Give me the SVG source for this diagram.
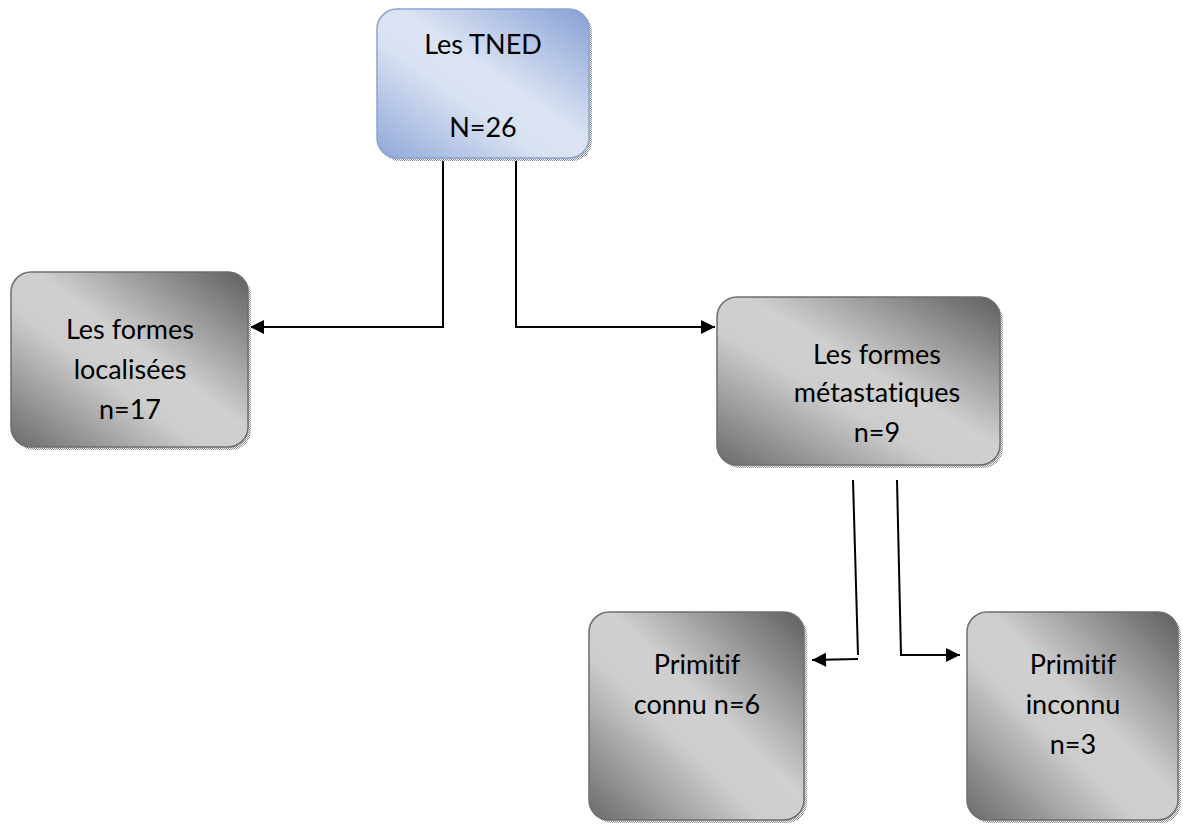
<svg xmlns="http://www.w3.org/2000/svg" width="1183" height="826" viewBox="0 0 1183 826">
<defs>
<linearGradient id="gGrey" x1="1" y1="0" x2="0" y2="1">
<stop offset="0" stop-color="#5e5e5e"/>
<stop offset="0.45" stop-color="#d0d0d0"/>
<stop offset="0.6" stop-color="#cdcdcd"/>
<stop offset="1" stop-color="#6a6a6a"/>
</linearGradient>
<linearGradient id="gBlue" x1="1" y1="0" x2="0" y2="1">
<stop offset="0" stop-color="#86a0d4"/>
<stop offset="0.45" stop-color="#dce4f3"/>
<stop offset="0.6" stop-color="#d9e2f2"/>
<stop offset="1" stop-color="#8fa7d8"/>
</linearGradient>
<pattern id="chk" width="2" height="2" patternUnits="userSpaceOnUse">
<rect width="2" height="2" fill="#ffffff"/>
<rect width="1" height="1" fill="#8a8a8a"/>
<rect x="1" y="1" width="1" height="1" fill="#8a8a8a"/>
</pattern>
<marker id="arr" viewBox="0 0 10 10" refX="10" refY="5" markerWidth="16" markerHeight="14" markerUnits="userSpaceOnUse" orient="auto">
<path d="M0,0 L10,5 L0,10 z" fill="#000"/>
</marker>
</defs>
<style>
.shadow{fill:url(#chk);}
.grey{fill:url(#gGrey);stroke:#6e6e6e;stroke-width:1.5;}
.blue{fill:url(#gBlue);stroke:#8aa3d5;stroke-width:1.5;}
.t{font-family:Lato,"Liberation Sans",sans-serif;font-size:27px;fill:#000;text-anchor:middle;font-variant-ligatures:none;}
.c{fill:none;stroke:#000;stroke-width:2;}
</style>
<g id="connectors">
<path class="c" d="M443,160 L443,327 L250,327" marker-end="url(#arr)"/>
<path class="c" d="M516,160 L516,327 L715,327" marker-end="url(#arr)"/>
<path class="c" d="M853,480 L858,655"/>
<path class="c" d="M858,659 L812,660" marker-end="url(#arr)"/>
<path class="c" d="M897,480 L901,655 L960,655" marker-end="url(#arr)"/>
</g>
<g id="node-tned">
<rect class="shadow" x="380" y="12" width="212" height="149" rx="20"/>
<rect class="blue" x="377" y="9" width="212" height="149" rx="20"/>
<text class="t" x="483" y="54">Les TNED</text>
<text class="t" x="483" y="137">N=26</text>
</g>
<g id="node-localisees">
<rect class="shadow" x="14" y="275" width="237" height="175" rx="20"/>
<rect class="grey" x="11" y="272" width="237" height="175" rx="20"/>
<text class="t" x="130" y="339">Les formes</text>
<text class="t" x="130" y="379">localisées</text>
<text class="t" x="130" y="419">n=17</text>
</g>
<g id="node-metastatiques">
<rect class="shadow" x="720" y="300" width="283" height="168" rx="20"/>
<rect class="grey" x="717" y="297" width="283" height="168" rx="20"/>
<text class="t" x="877" y="364">Les formes</text>
<text class="t" x="877" y="402">métastatiques</text>
<text class="t" x="877" y="442">n=9</text>
</g>
<g id="node-connu">
<rect class="shadow" x="592" y="615" width="215" height="208" rx="20"/>
<rect class="grey" x="589" y="612" width="215" height="208" rx="20"/>
<text class="t" x="697" y="674">Primitif</text>
<text class="t" x="697" y="714">connu n=6</text>
</g>
<g id="node-inconnu">
<rect class="shadow" x="970" y="615" width="211" height="208" rx="20"/>
<rect class="grey" x="967" y="612" width="211" height="208" rx="20"/>
<text class="t" x="1073" y="674">Primitif</text>
<text class="t" x="1073" y="714">inconnu</text>
<text class="t" x="1073" y="754">n=3</text>
</g>
</svg>
